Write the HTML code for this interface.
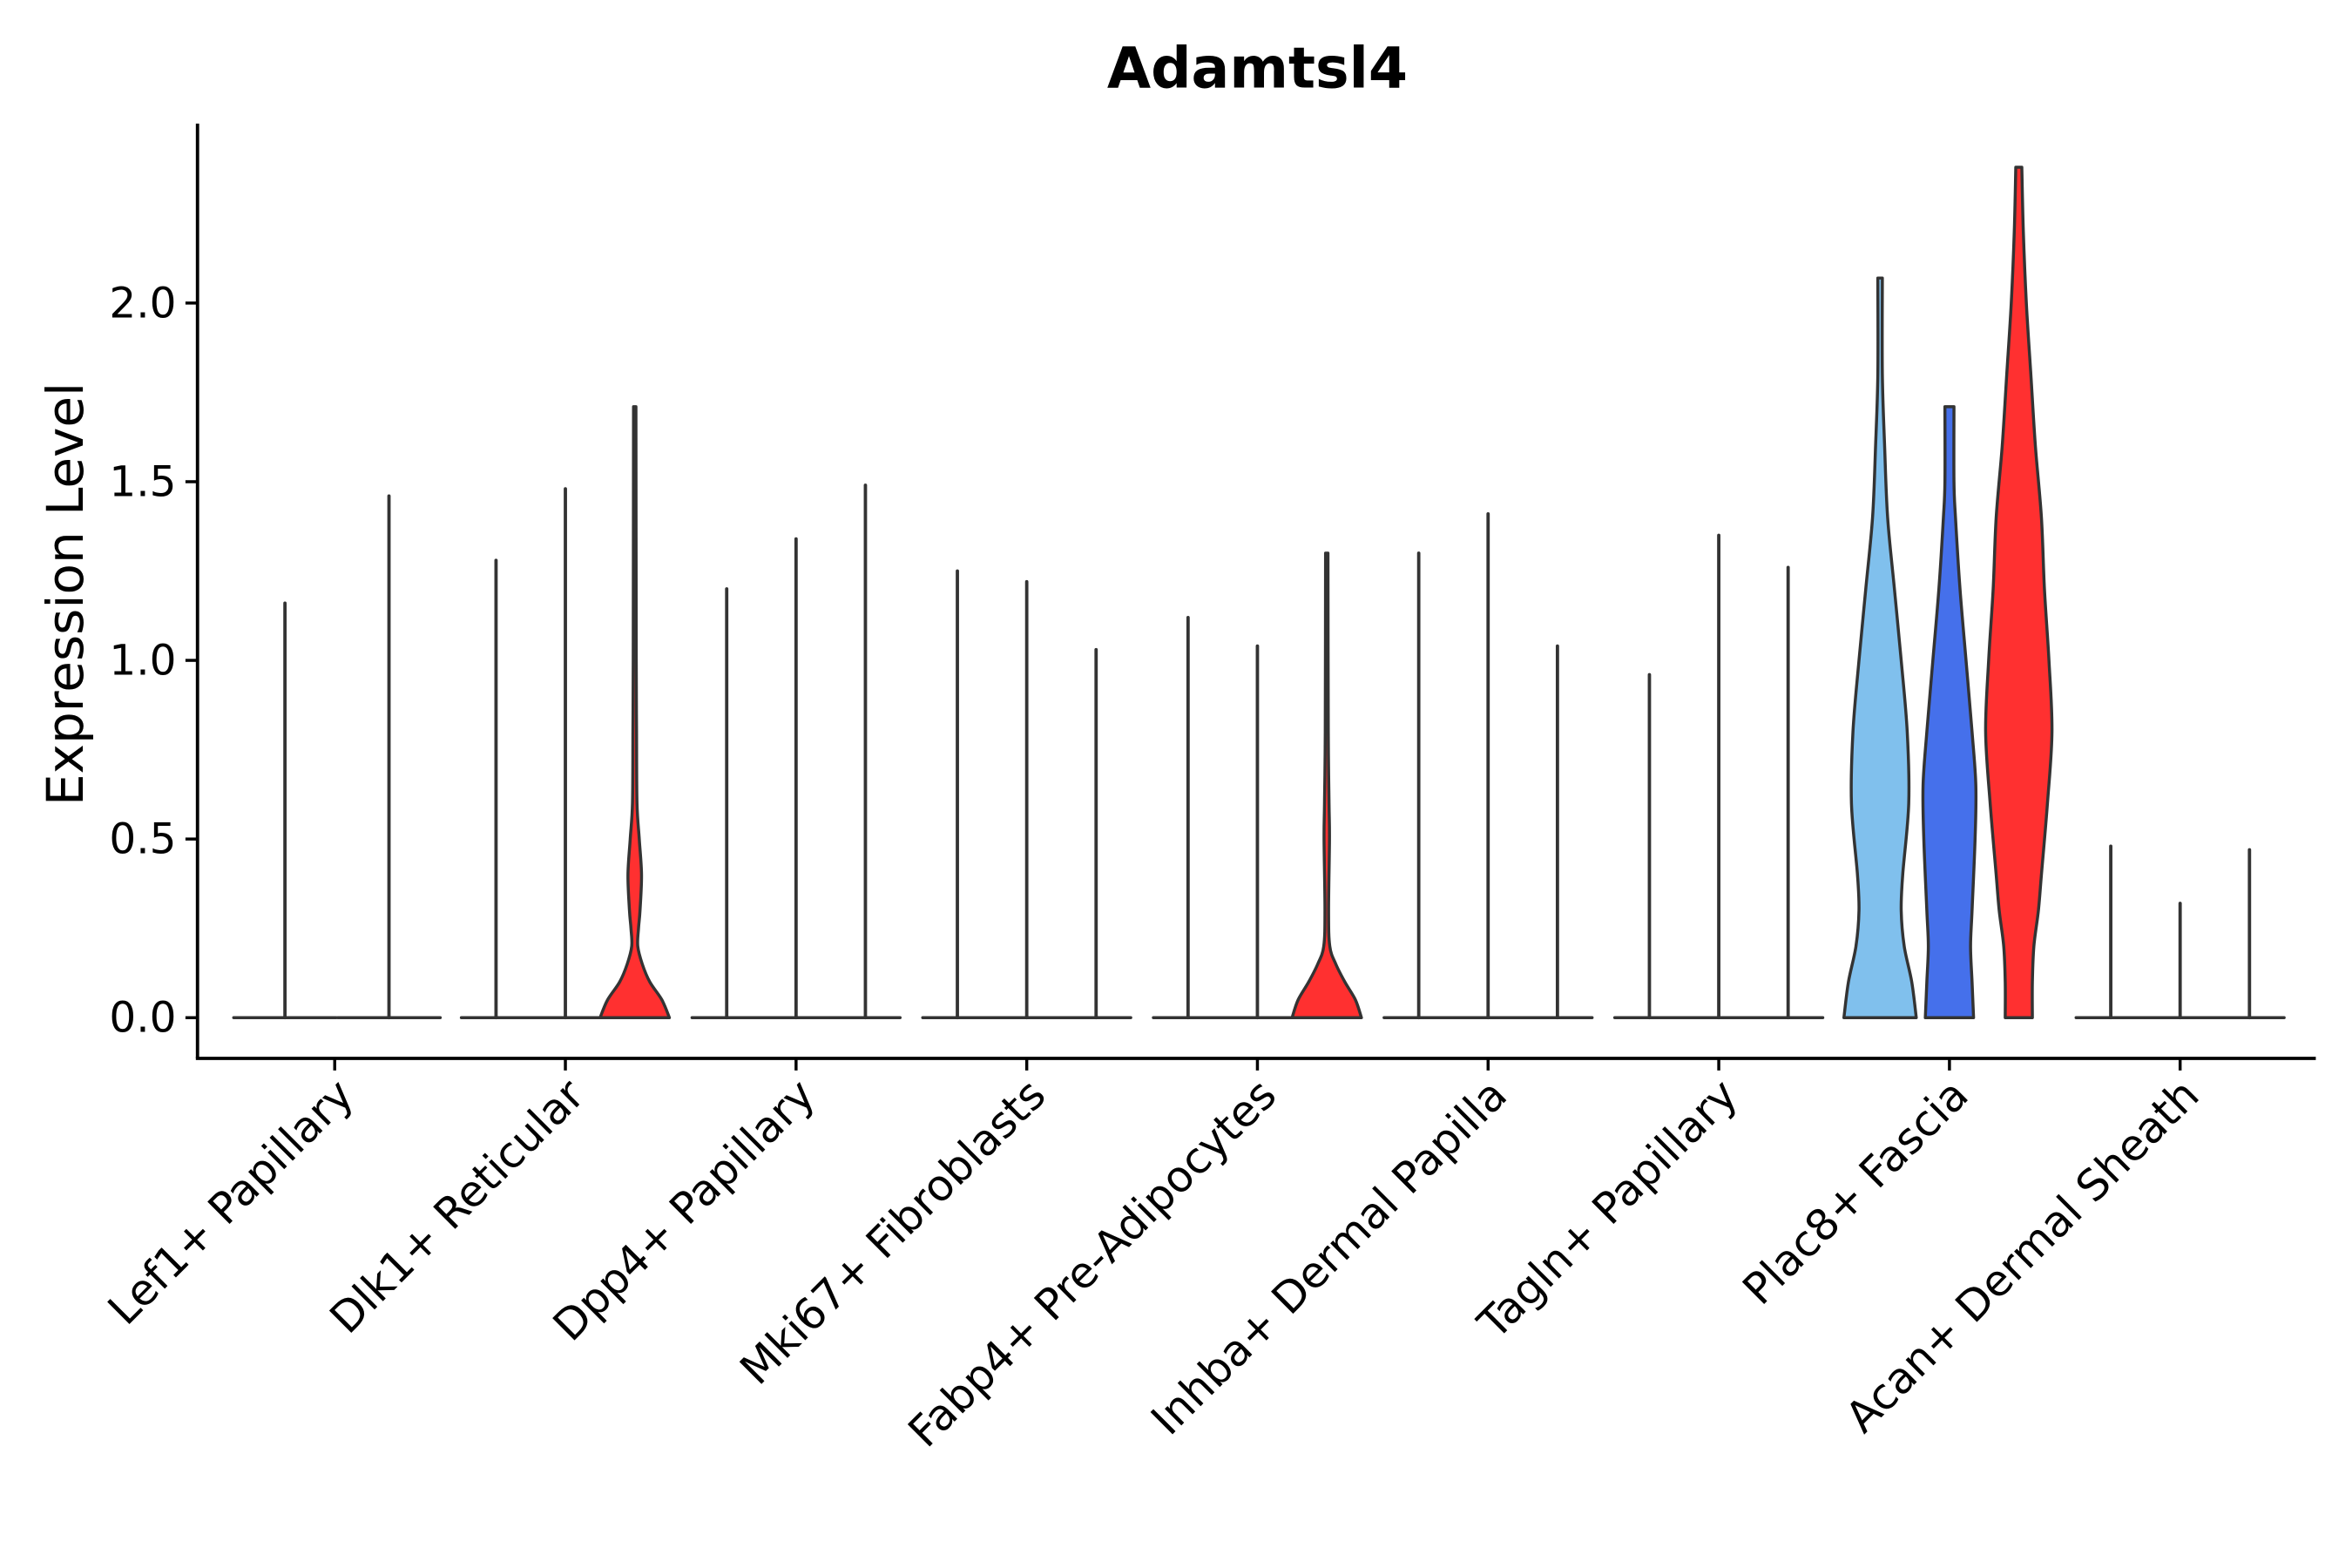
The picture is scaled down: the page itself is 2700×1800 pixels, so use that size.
<!DOCTYPE html>
<html><head><meta charset="utf-8"><style>
html,body{margin:0;padding:0;background:#fff;}
svg{display:block;}
text{font-family:"DejaVu Sans","Liberation Sans",sans-serif;fill:#000;}
</style></head><body>
<svg id="chart" width="2700" height="1800" viewBox="0 0 1560 1040" xmlns="http://www.w3.org/2000/svg">
<text x="834" y="58" font-size="37.5" font-weight="bold" text-anchor="middle">Adamtsl4</text>
<text transform="translate(55,394) rotate(-90)" font-size="33.5" text-anchor="middle">Expression Level</text>
<g id="plot"></g>
</svg>
<script>
const categories = ["Lef1+ Papillary","Dlk1+ Reticular","Dpp4+ Papillary","Mki67+ Fibroblasts","Fabp4+ Pre-Adipocytes","Inhba+ Dermal Papilla","Tagln+ Papillary","Plac8+ Fascia","Acan+ Dermal Sheath"];
const yTicks = [0, 0.5, 1.0, 1.5, 2.0];
const yTickLabels = ["0.0","0.5","1.0","1.5","2.0"];
const spikeMax = [
 [1.16, 1.46],
 [1.28, 1.48, null],
 [1.20, 1.34, 1.49],
 [1.25, 1.22, 1.03],
 [1.12, 1.04, null],
 [1.30, 1.41, 1.04],
 [0.96, 1.35, 1.26],
 [null, null, null],
 [0.48, 0.32, 0.47]
];
const dlk1Red = [[0,23],[0.05,18],[0.1,10],[0.15,5],[0.2,2],[0.25,2.5],[0.3,3.5],[0.4,4.5],[0.5,3],[0.6,1.5],[0.8,1.2],[1.0,1],[1.71,0.8]];
const fabp4Red = [[0,23],[0.05,19],[0.1,12],[0.15,6],[0.2,2],[0.3,1.2],[0.5,1.8],[0.6,1.5],[0.8,1],[1.3,0.8]];
const plac8Light = [[0,24],[0.1,21],[0.2,16],[0.3,14],[0.4,15],[0.6,19],[0.8,18],[1.0,14],[1.2,9.5],[1.4,5],[1.6,3],[1.8,1.5],[2.07,1.5]];
const plac8Blue = [[0,16],[0.1,15],[0.2,14],[0.3,15],[0.5,17],[0.65,17.5],[0.8,15],[1.0,11],[1.2,7],[1.4,4],[1.5,3],[1.71,3]];
const plac8Red = [[0,9],[0.1,9],[0.2,10],[0.3,13],[0.4,15],[0.6,19],[0.8,22],[1.0,20],[1.2,17],[1.4,15],[1.6,11],[1.8,8],[2.0,5],[2.2,3],[2.38,2]];

const NS='http://www.w3.org/2000/svg';
const plot=document.getElementById('plot');
const X0=131, X1=1536, Y0=675, PX=237, TOP=82, BOT=702;
const yScale=v=>Y0-v*PX;
const xScale=i=>222+i*153.0;
const subOff=(g,j,n)=> n===2 ? [-33,36][j] : [-46,0,46][j];
const colors={red:'#ff3030',light:'#80c0ed',blue:'#4570eb'};
function mk(tag,attrs){const e=document.createElementNS(NS,tag);for(const k in attrs)e.setAttribute(k,attrs[k]);plot.appendChild(e);return e;}
function smooth(pts){
  let d='';
  for(let i=0;i<pts.length-1;i++){
    const p0=pts[Math.max(0,i-1)],p1=pts[i],p2=pts[i+1],p3=pts[Math.min(pts.length-1,i+2)];
    const c1=[p1[0]+(p2[0]-p0[0])/6,p1[1]+(p2[1]-p0[1])/6];
    const c2=[p2[0]-(p3[0]-p1[0])/6,p2[1]-(p3[1]-p1[1])/6];
    d+=` C${c1[0].toFixed(2)},${c1[1].toFixed(2)} ${c2[0].toFixed(2)},${c2[1].toFixed(2)} ${p2[0].toFixed(2)},${p2[1].toFixed(2)}`;
  }
  return d;
}
function violinPath(cx,prof){
  const r=prof.map(([v,w])=>[cx+w,yScale(v)]);
  const l=prof.map(([v,w])=>[cx-w,yScale(v)]).reverse();
  return `M${l[l.length-1][0]},${l[l.length-1][1]} L${r[0][0]},${r[0][1]}`+smooth(r)+` L${l[0][0]},${l[0][1]}`+smooth(l)+' Z';
}
const special={'1-2':[dlk1Red,'red'],'4-2':[fabp4Red,'red'],'7-0':[plac8Light,'light'],'7-1':[plac8Blue,'blue'],'7-2':[plac8Red,'red']};
categories.forEach((c,g)=>{
  const n=spikeMax[g].length;
  spikeMax[g].forEach((m,j)=>{
    const cx=xScale(g)+subOff(g,j,n);
    const key=g+'-'+j;
    if(special[key]){
      const [prof,col]=special[key];
      const p=mk('path',{d:violinPath(cx,prof),fill:colors[col],stroke:'#333',"stroke-width":2,"stroke-linejoin":"round"});
      
      
    } else {
      const hw = n===2?34:23;
      const h=mk('line',{x1:cx-hw,x2:cx+hw,y1:Y0,y2:Y0,stroke:'#333',"stroke-width":2,"stroke-linecap":"round"});
      
      
      const s=mk('line',{x1:cx,x2:cx,y1:Y0,y2:yScale(m),stroke:'#333',"stroke-width":2.2,"stroke-linecap":"round"});
      
      
    }
  });
  const t=mk('line',{x1:xScale(g),x2:xScale(g),y1:BOT,y2:BOT+8,stroke:'#000',"stroke-width":2});
  
  
  const lb=mk('text',{transform:`translate(${xScale(g)+14},${BOT+26}) rotate(-45)`,"font-size":28.5,"text-anchor":"end"});
  lb.textContent=c;
  
  
});
yTicks.forEach((v,i)=>{
  const t=mk('line',{x1:X0-8,x2:X0,y1:yScale(v),y2:yScale(v),stroke:'#000',"stroke-width":2});
  
  
  const lb=mk('text',{x:X0-14,y:yScale(v)+9.5,"font-size":28,"text-anchor":"end"});
  lb.textContent=yTickLabels[i];
  
  
});
const ya=mk('line',{x1:X0,x2:X0,y1:TOP,y2:BOT,stroke:'#000',"stroke-width":2.2});


const xa=mk('line',{x1:X0-1.1,x2:X1,y1:BOT,y2:BOT,stroke:'#000',"stroke-width":2.2});


</script>
</body></html>
